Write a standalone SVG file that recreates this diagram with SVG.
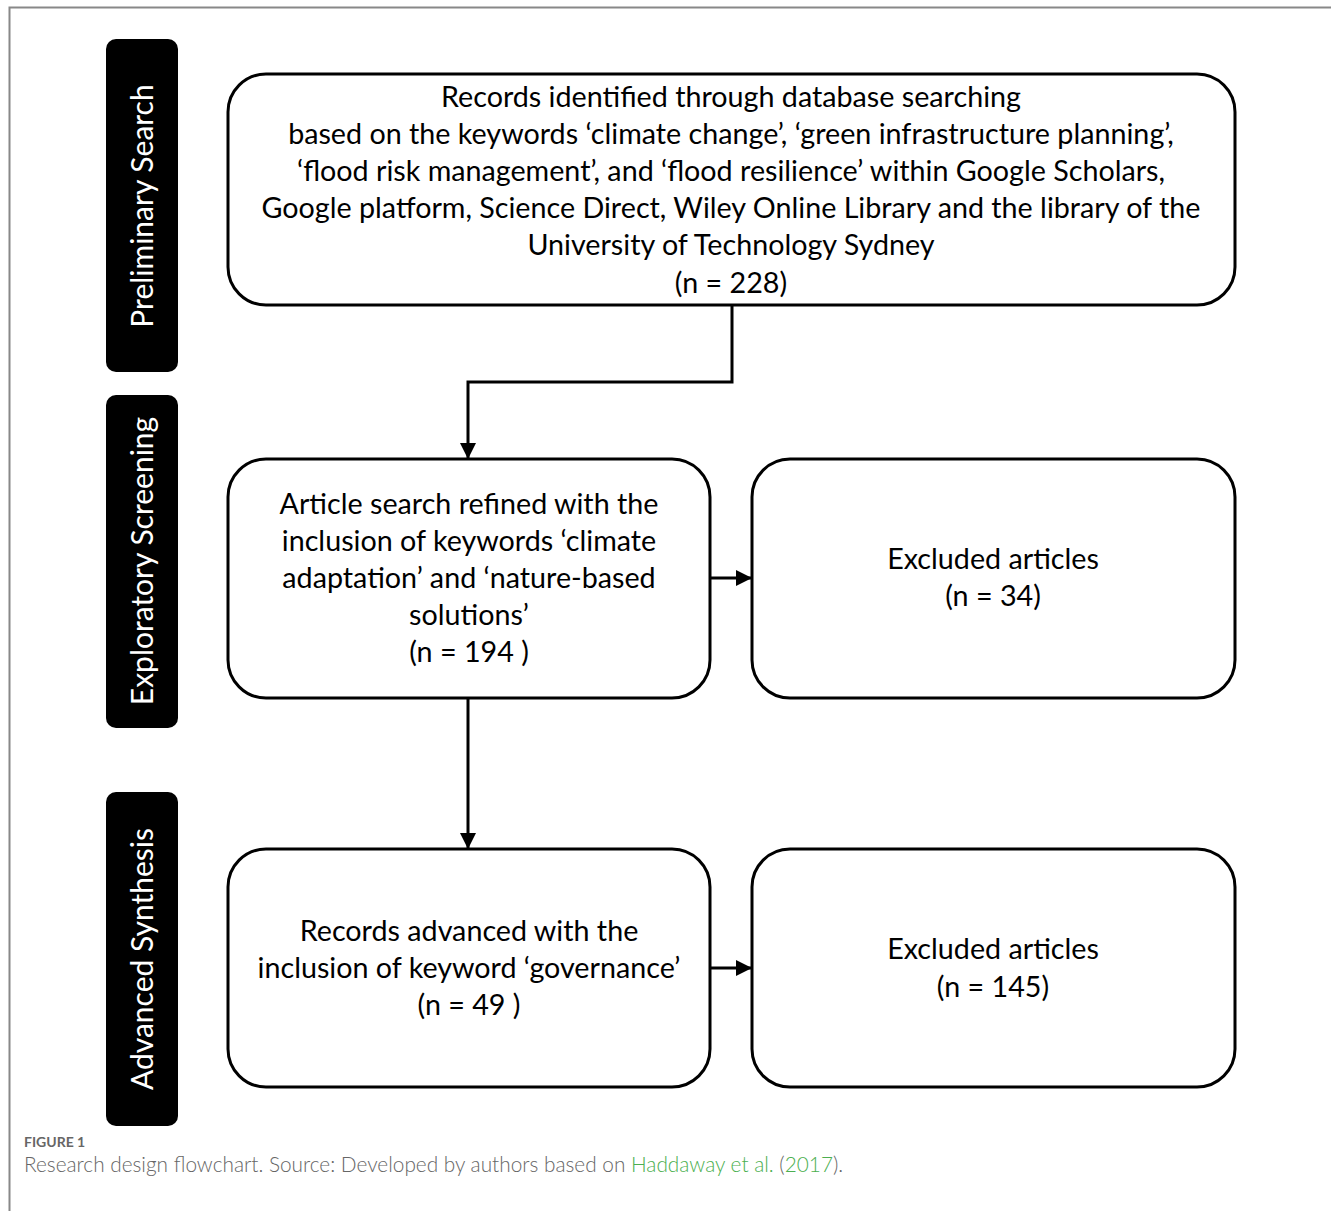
<svg xmlns="http://www.w3.org/2000/svg" width="1331" height="1211" viewBox="0 0 1331 1211">
<style>
.box{fill:#fff;stroke:#000;stroke-width:3}
.side{fill:#000}
.t{font-family:Lato,"Liberation Sans",sans-serif;font-size:28.7px;fill:#000;text-anchor:middle}
.st{font-family:Lato,"Liberation Sans",sans-serif;font-size:30px;fill:#fff;text-anchor:middle}
.conn{fill:none;stroke:#000;stroke-width:3}
.cap{font-family:Lato,"Open Sans",sans-serif;fill:#666}
</style>
<defs>
<marker id="ah" markerUnits="userSpaceOnUse" markerWidth="16" markerHeight="16" viewBox="0 0 16 16" refX="16" refY="8" orient="auto">
<path d="M0,0 L16,8 L0,16 Z" fill="#000"/>
</marker>
</defs>
<rect width="1331" height="1211" fill="#fff"/>
<path d="M9.5,1211 V7.5 H1331" fill="none" stroke="#888" stroke-width="2"/>

<g id="label-preliminary">
<rect class="side" x="106" y="39" width="72" height="333" rx="10"/>
<text class="st" transform="translate(152.5,206) rotate(-90)">Preliminary Search</text>
</g>
<g id="label-exploratory">
<rect class="side" x="106" y="395" width="72" height="333" rx="10"/>
<text class="st" transform="translate(152.5,561) rotate(-90)">Exploratory Screening</text>
</g>
<g id="label-advanced">
<rect class="side" x="106" y="792" width="72" height="334" rx="10"/>
<text class="st" transform="translate(152.5,959) rotate(-90)">Advanced Synthesis</text>
</g>

<g id="node-records">
<rect class="box" x="228" y="74" width="1007" height="231" rx="38"/>
<text class="t" x="731" y="107">Records identified through database searching</text>
<text class="t" x="731" y="144">based on the keywords ‘climate change’, ‘green infrastructure planning’,</text>
<text class="t" x="731" y="181">‘flood risk management’, and ‘flood resilience’ within Google Scholars,</text>
<text class="t" x="731" y="218">Google platform, Science Direct, Wiley Online Library and the library of the</text>
<text class="t" x="731" y="255">University of Technology Sydney</text>
<text class="t" x="731" y="293">(n = 228)</text>
</g>

<g id="node-refined">
<rect class="box" x="228" y="459" width="482" height="239" rx="38"/>
<text class="t" x="469" y="514">Article search refined with the</text>
<text class="t" x="469" y="551">inclusion of keywords ‘climate</text>
<text class="t" x="469" y="588">adaptation’ and ‘nature-based</text>
<text class="t" x="469" y="625">solutions’</text>
<text class="t" x="469" y="662">(n = 194 )</text>
</g>

<g id="node-excluded1">
<rect class="box" x="752" y="459" width="483" height="239" rx="38"/>
<text class="t" x="993" y="569">Excluded articles</text>
<text class="t" x="993" y="606">(n = 34)</text>
</g>

<g id="node-advanced">
<rect class="box" x="228" y="849" width="482" height="238" rx="38"/>
<text class="t" x="469" y="941">Records advanced with the</text>
<text class="t" x="469" y="978">inclusion of keyword ‘governance’</text>
<text class="t" x="469" y="1015">(n = 49 )</text>
</g>

<g id="node-excluded2">
<rect class="box" x="752" y="849" width="483" height="238" rx="38"/>
<text class="t" x="993" y="959">Excluded articles</text>
<text class="t" x="993" y="997">(n = 145)</text>
</g>

<g id="connectors">
<path class="conn" d="M732,305 V382 H468 V459" marker-end="url(#ah)"/>
<path class="conn" d="M710,578 H752" marker-end="url(#ah)"/>
<path class="conn" d="M468,698 V849" marker-end="url(#ah)"/>
<path class="conn" d="M710,968 H752" marker-end="url(#ah)"/>
</g>

<g id="caption">
<text class="cap" x="24" y="1147" font-size="14" font-weight="bold">FIGURE 1</text>
<text class="cap" x="24" y="1172" font-size="20.8" font-weight="300">Research design flowchart. Source: Developed by authors based on <tspan fill="#4caf50">Haddaway et al.</tspan> (<tspan fill="#4caf50">2017</tspan>).</text>
</g>
</svg>
